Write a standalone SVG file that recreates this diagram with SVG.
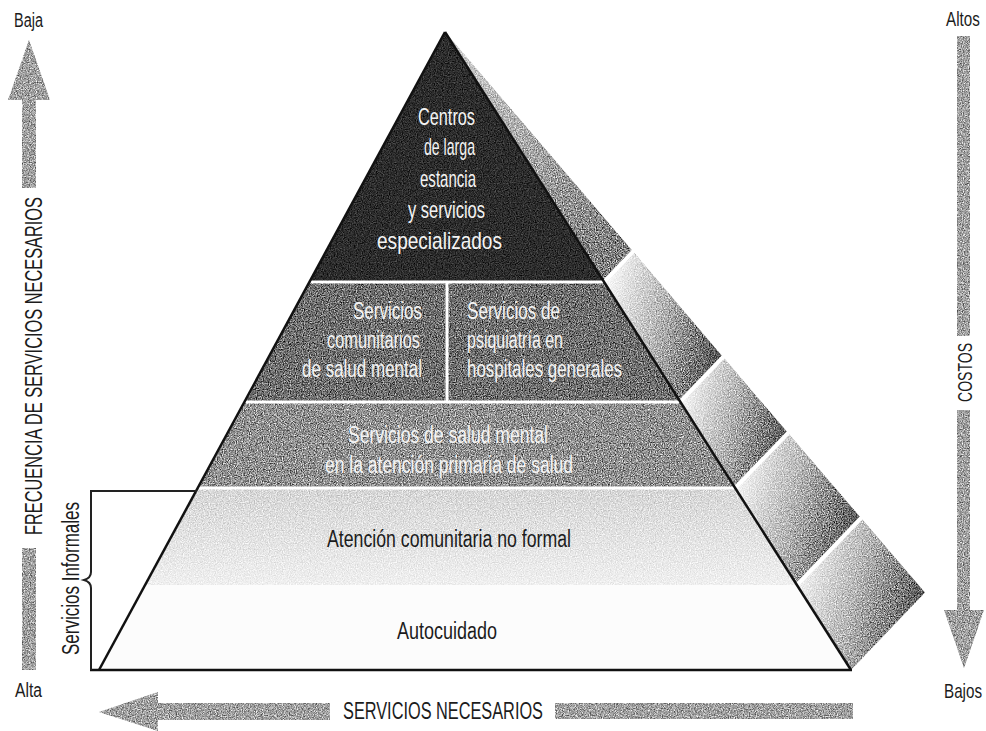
<svg xmlns="http://www.w3.org/2000/svg" width="986" height="731" viewBox="0 0 986 731">
<style>
  text { font-family: "Liberation Sans", Arial, sans-serif; }
  .w { fill: #f4f4f4; font-size: 23px; }
  .wt { fill: #f4f4f4; font-size: 24px; }
  .k { fill: #1c1c1c; font-size: 23px; }
  .side { fill: #1c1c1c; font-size: 20px; }
  .cap { fill: #1c1c1c; font-size: 23px; }
  .edge { stroke: #111; stroke-width: 2.5; fill: none; stroke-linejoin: miter; }
  .sep { stroke: #fff; stroke-width: 3; fill: none; }
  .gap { stroke: #fff; stroke-width: 4; fill: none; }
  .arrow { fill: #a0a0a0; }
</style>
<defs>
  <filter id="grain" filterUnits="userSpaceOnUse" x="0" y="0" width="986" height="731" color-interpolation-filters="sRGB">
    <feTurbulence type="fractalNoise" baseFrequency="0.85" numOctaves="2" seed="4" result="t"/>
    <feColorMatrix in="t" type="matrix" values="1 0 0 0 0  1 0 0 0 0  1 0 0 0 0  0 0 0 0 1" result="g"/>
    <feComponentTransfer in="g" result="gc">
      <feFuncR type="linear" slope="1.5" intercept="-0.25"/>
      <feFuncG type="linear" slope="1.5" intercept="-0.25"/>
      <feFuncB type="linear" slope="1.5" intercept="-0.25"/>
    </feComponentTransfer>
    <feBlend in="gc" in2="SourceGraphic" mode="overlay" result="b"/>
    <feComposite in="b" in2="SourceGraphic" operator="in"/>
  </filter>
  <linearGradient id="sideTop" x1="0" y1="0" x2="0.6" y2="1">
    <stop offset="0" stop-color="#d4d4d4"/>
    <stop offset="1" stop-color="#808080"/>
  </linearGradient>
  <linearGradient id="sideSeg" x1="0" y1="0.35" x2="1" y2="0.65">
    <stop offset="0" stop-color="#f6f6f6"/>
    <stop offset="0.45" stop-color="#b6b6b6"/>
    <stop offset="1" stop-color="#525252"/>
  </linearGradient>
  <linearGradient id="band4" x1="0" y1="0" x2="0" y2="1">
    <stop offset="0" stop-color="#d6d6d6"/>
    <stop offset="1" stop-color="#efefef"/>
  </linearGradient>
</defs>

<rect width="986" height="731" fill="#ffffff"/>

<!-- side face of pyramid -->
<g id="side-face" filter="url(#grain)">
  <polygon points="445,32 633,251.5 604,282" fill="url(#sideTop)"/>
  <polygon points="604,282 633,251.5 723,357 680,402" fill="url(#sideSeg)"/>
  <polygon points="680,402 723,357 788,433 735,488" fill="url(#sideSeg)"/>
  <polygon points="735,488 788,433 861,518 797,585" fill="url(#sideSeg)"/>
  <polygon points="797,585 861,518 925,592.5 851,670" fill="url(#sideSeg)"/>
</g>
<g id="side-gaps">
  <line class="gap" x1="604" y1="282" x2="635" y2="249.5"/>
  <line class="gap" x1="680" y1="402" x2="725" y2="355"/>
  <line class="gap" x1="735" y1="488" x2="790" y2="431"/>
  <line class="gap" x1="797" y1="585" x2="863" y2="516"/>
</g>

<!-- front bands -->
<g id="node-centros">
  <polygon points="445,32 604,282 309.5,282" fill="#2c2c2c" filter="url(#grain)"/>
  <text class="wt" x="418" y="125" textLength="57" lengthAdjust="spacingAndGlyphs">Centros</text>
  <text class="wt" x="424" y="155" textLength="51" lengthAdjust="spacingAndGlyphs">de larga</text>
  <text class="wt" x="420" y="187" textLength="56" lengthAdjust="spacingAndGlyphs">estancia</text>
  <text class="wt" x="408" y="218" textLength="77" lengthAdjust="spacingAndGlyphs">y servicios</text>
  <text class="wt" x="377" y="249" textLength="125" lengthAdjust="spacingAndGlyphs">especializados</text>
</g>

<g id="node-comunitarios">
  <polygon points="309.5,282 447,282 447,402 244.5,402" fill="#6e6e6e" filter="url(#grain)"/>
  <text class="w" x="353" y="319" textLength="69" lengthAdjust="spacingAndGlyphs">Servicios</text>
  <text class="w" x="327" y="348" textLength="93" lengthAdjust="spacingAndGlyphs">comunitarios</text>
  <text class="w" x="302" y="377" textLength="120" lengthAdjust="spacingAndGlyphs">de salud mental</text>
</g>

<g id="node-psiquiatria">
  <polygon points="447,282 604,282 680,402 447,402" fill="#6e6e6e" filter="url(#grain)"/>
  <text class="w" x="467" y="319" textLength="93" lengthAdjust="spacingAndGlyphs">Servicios de</text>
  <text class="w" x="467" y="348" textLength="96" lengthAdjust="spacingAndGlyphs">psiquiatría en</text>
  <text class="w" x="467" y="377" textLength="155" lengthAdjust="spacingAndGlyphs">hospitales generales</text>
</g>

<g id="node-atencion-primaria">
  <polygon points="244.5,402 680,402 735,488 198,488" fill="#909090" filter="url(#grain)"/>
  <text class="w" x="348" y="443" textLength="200" lengthAdjust="spacingAndGlyphs">Servicios de salud mental</text>
  <text class="w" x="325" y="473" textLength="248" lengthAdjust="spacingAndGlyphs">en la atención primaria de salud</text>
</g>

<g id="node-no-formal">
  <polygon points="198,488 735,488 797,585 145,585" fill="url(#band4)" filter="url(#grain)"/>
  <text class="k" x="327" y="547" textLength="244" lengthAdjust="spacingAndGlyphs">Atención comunitaria no formal</text>
</g>

<g id="node-autocuidado">
  <polygon points="145,585 797,585 851,670 99,670" fill="#fcfcfc"/>
  <text class="k" x="397" y="639" textLength="100" lengthAdjust="spacingAndGlyphs">Autocuidado</text>
</g>

<g id="band-separators">
  <line class="sep" x1="311" y1="282" x2="603" y2="282"/>
  <line class="sep" x1="246" y1="402" x2="679" y2="402"/>
  <line class="sep" x1="199" y1="488" x2="734" y2="488"/>
  <line class="sep" x1="447" y1="283" x2="447" y2="401"/>
</g>

<g id="pyramid-outline">
  <polyline class="edge" points="445,32 99,670"/>
  <polyline class="edge" points="445,32 851,670"/>
  <line class="edge" x1="90" y1="670" x2="852" y2="670"/>
</g>

<!-- informal services bracket -->
<g id="bracket-informales">
  <path d="M197,491 H91 V572 Q91,578 84,580 Q91,582 91,588 V670" fill="none" stroke="#222" stroke-width="2"/>
  <text class="cap" transform="translate(79,655) rotate(-90)" x="0" y="0" textLength="153" lengthAdjust="spacingAndGlyphs">Servicios Informales</text>
</g>

<!-- axis arrows -->
<g id="arrows" filter="url(#grain)">
  <path class="arrow" d="M29,40 L50,100 L36,100 L36,188 L22,188 L22,100 L8,100 Z"/>
  <rect class="arrow" x="22" y="548" width="14" height="122"/>
  <rect class="arrow" x="957" y="36" width="13" height="300"/>
  <path class="arrow" d="M957,410 L970,410 L970,610 L984,610 L964,668 L944,610 L957,610 Z"/>
  <path class="arrow" d="M99,712 L158,692 L158,703 L330,703 L330,720 L158,720 L158,731 Z"/>
  <rect class="arrow" x="555" y="703" width="298" height="16"/>
</g>

<g id="axis-labels">
  <text class="side" x="14" y="27" textLength="29" lengthAdjust="spacingAndGlyphs">Baja</text>
  <text class="side" x="15" y="697" textLength="27" lengthAdjust="spacingAndGlyphs">Alta</text>
  <text class="side" transform="translate(946,26) scale(0.76,1)" x="0" y="0">Altos</text>
  <text class="side" transform="translate(944,698) scale(0.76,1)" x="0" y="0">Bajos</text>
  <text class="cap" x="343" y="719" textLength="200" lengthAdjust="spacingAndGlyphs">SERVICIOS NECESARIOS</text>
  <text class="cap" transform="translate(42,535) rotate(-90)" x="0" y="0" textLength="338" lengthAdjust="spacingAndGlyphs">FRECUENCIA DE SERVICIOS NECESARIOS</text>
  <text class="side" transform="translate(972,402) rotate(-90)" x="0" y="0" textLength="59" lengthAdjust="spacingAndGlyphs">COSTOS</text>
</g>
</svg>
